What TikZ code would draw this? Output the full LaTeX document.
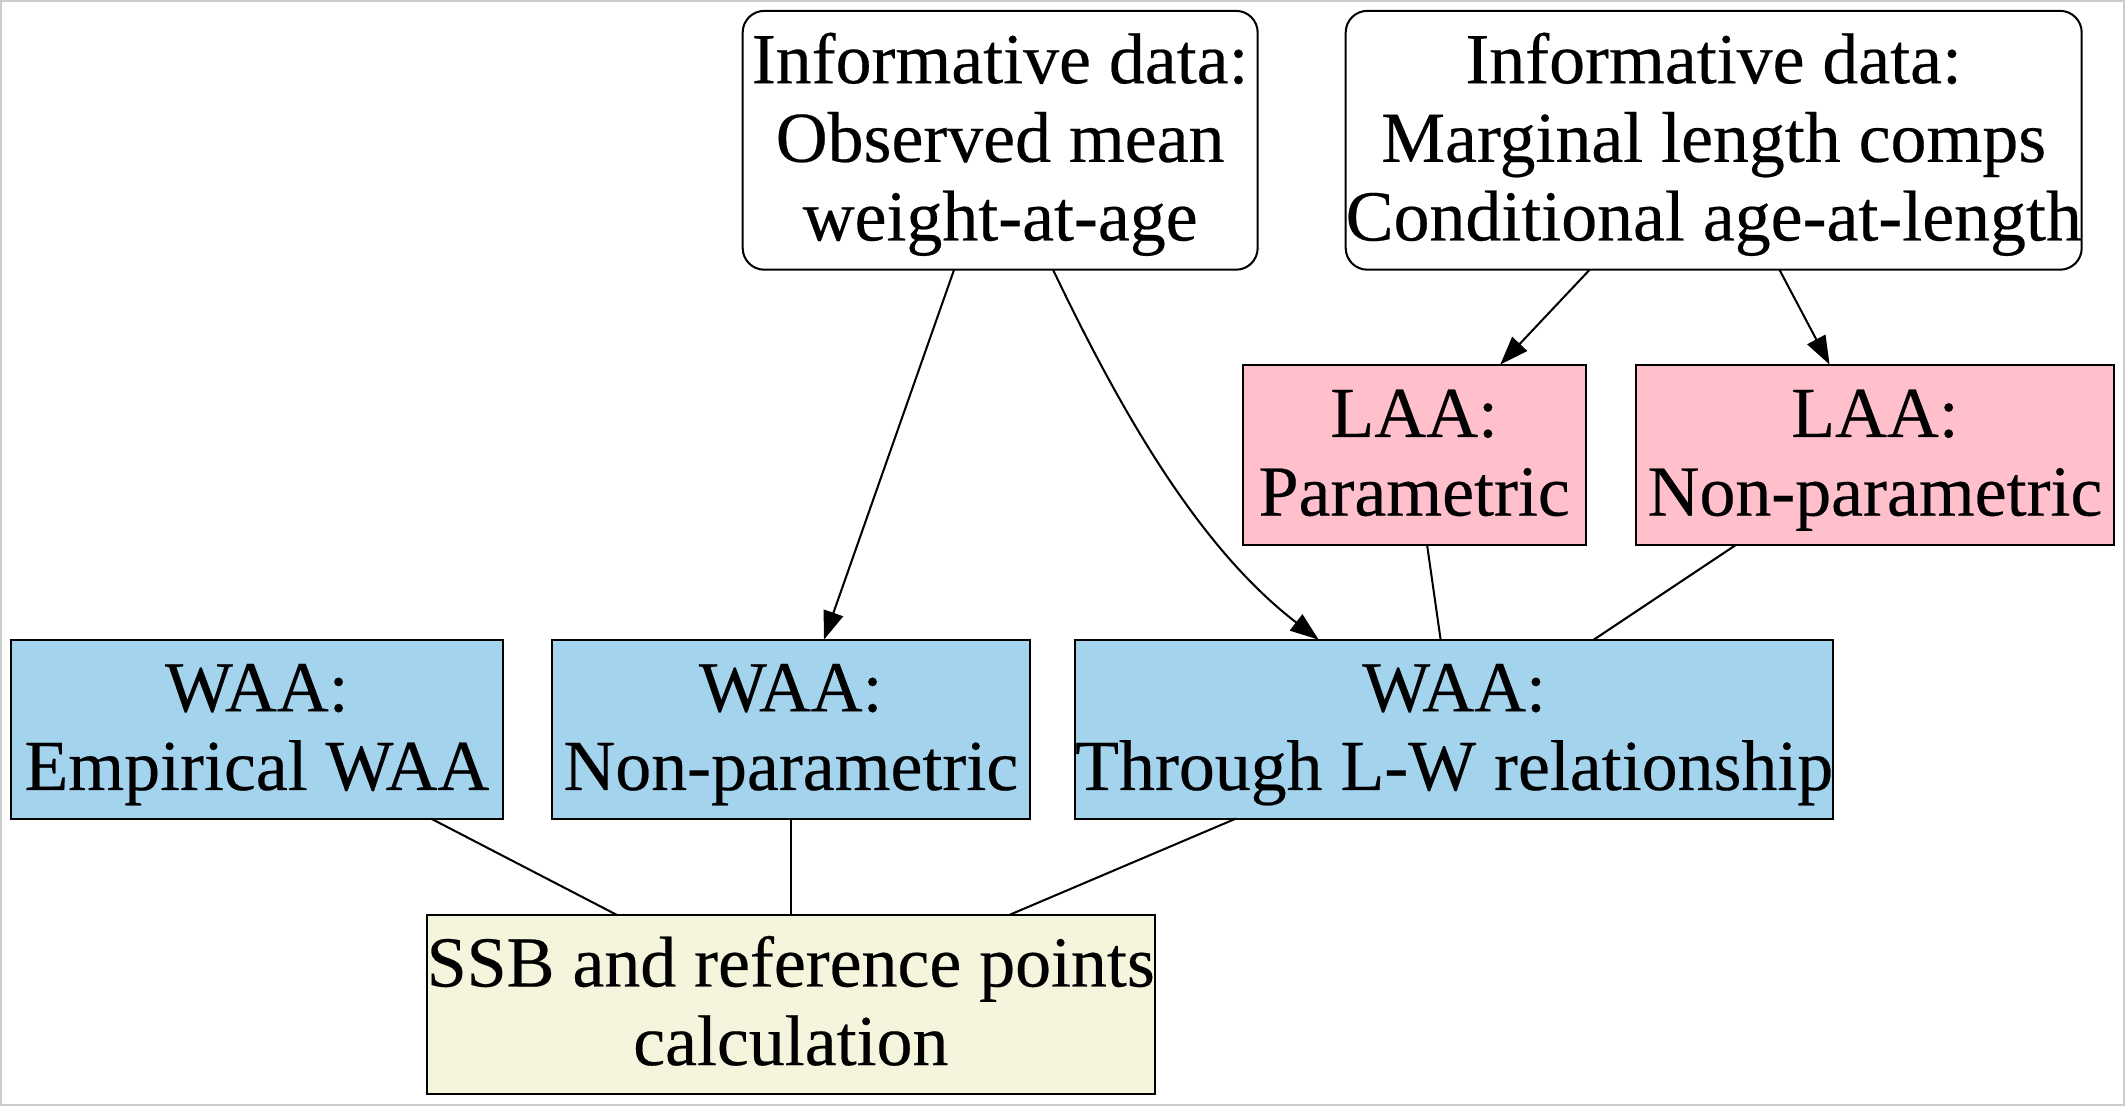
\documentclass[tikz,border=0pt]{standalone}
\usepackage{fontspec}
\setmainfont{Liberation Serif}[FakeBold=0.3]
\usetikzlibrary{arrows.meta,calc}
\definecolor{waablue}{HTML}{A4D3EE}
\definecolor{laapink}{HTML}{FFC0CB}
\definecolor{ssbbeige}{HTML}{F4F5DC}
\definecolor{frame}{HTML}{CCCCCC}
\newcommand{\ls}{\rule[-6pt]{0pt}{27.9pt}}
\begin{document}
\begin{tikzpicture}[x=0.5pt,y=-0.5pt,
  every node/.style={inner sep=0pt,outer sep=0pt,align=center,
    font=\fontsize{26.5}{29}\selectfont},
  databox/.style={draw,line width=0.75pt,rounded corners=8pt,fill=white,minimum height=95.5pt},
  waabox/.style={draw,line width=0.75pt,fill=waablue,minimum height=66pt},
  laabox/.style={draw,line width=0.75pt,fill=laapink,minimum height=66.5pt},
  ssbbox/.style={draw,line width=0.75pt,fill=ssbbeige,minimum height=66pt},
  conn/.style={line width=0.75pt},
  arr/.style={line width=0.75pt,-{Triangle[length=10.5pt,width=7.5pt]}}]
\useasboundingbox (0,0) rectangle (1568,816);
\draw[frame,line width=0.6pt] (0.6,0.6) rectangle (1567.4,815.4);

\node[databox,minimum width=190pt] (A) at (738,103.5) {\ls Informative data:\\\ls Observed mean\\\ls weight-at-age};
\node[databox,minimum width=271.5pt] (B) at (1264.5,103.5) {\ls Informative data:\\\ls Marginal length comps\\\ls Conditional age-at-length};

\node[laabox,minimum width=126.5pt] (LP) at (1043.5,335.5) {\ls LAA:\\\ls Parametric};
\node[laabox,minimum width=176.5pt] (LN) at (1383.5,335.5) {\ls LAA:\\\ls Non-parametric};

\node[waabox,minimum width=181.5pt] (WE) at (189.5,538) {\ls WAA:\\\ls Empirical WAA};
\node[waabox,minimum width=176.5pt] (WN) at (583.5,538) {\ls WAA:\\\ls Non-parametric};
\node[waabox,minimum width=279pt] (WT) at (1073,538) {\ls WAA:\\\ls Through L-W relationship};

\node[ssbbox,minimum width=268.5pt] (S) at (583.5,741) {\ls SSB and reference points\\\ls calculation};

\draw[arr] ($(A.south)+(-34,0)$) -- ($(WN.north)+(24.5,0)$);
\draw[arr] ($(A.south)+(39,0)$) .. controls ($(A.south)+(92,111)$) and ($(WT.north)+(-186,-66)$) .. ($(WT.north)+(-100,0)$);
\draw[arr] ($(B.south)+(-91.5,0)$) -- ($(LP.north)+(63.5,0)$);
\draw[arr] ($(B.south)+(48.5,0)$) -- ($(LN.north)+(-33.5,0)$);
\draw[conn] ($(LP.south)+(9.5,0)$) -- ($(WT.north)+(-10,0)$);
\draw[conn] ($(LN.south)+(-102.5,0)$) -- ($(WT.north)+(103,0)$);
\draw[conn] ($(WE.south)+(128.5,0)$) -- ($(S.north)+(-128.5,0)$);
\draw[conn] (WN.south) -- (S.north);
\draw[conn] ($(WT.south)+(-161,0)$) -- ($(S.north)+(161.5,0)$);
\end{tikzpicture}
\end{document}
